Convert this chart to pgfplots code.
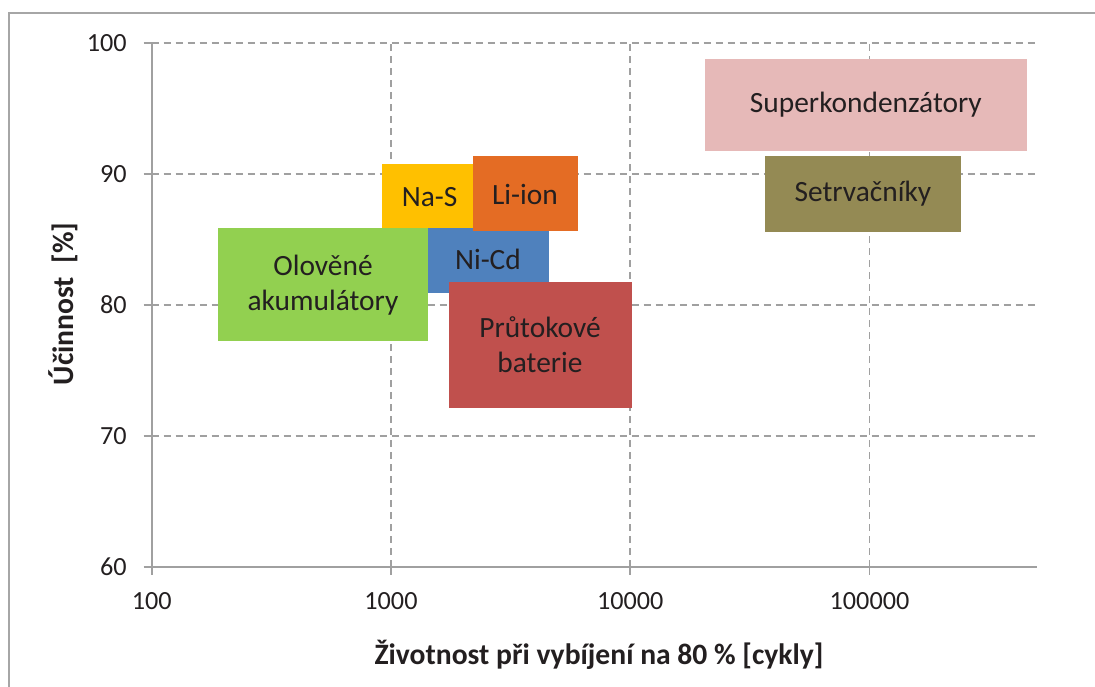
\documentclass[border=0pt]{standalone}
\usepackage{pgfplots}
\pgfplotsset{compat=1.18}
\usepackage{fontspec}
\setmainfont{Carlito}
\definecolor{framegray}{HTML}{A6A6A6}
\definecolor{axgray}{HTML}{A0A0A0}
\definecolor{txt}{HTML}{231F20}
\definecolor{cSuper}{HTML}{E6B9B8}
\definecolor{cSetr}{HTML}{948A54}
\definecolor{cNaS}{HTML}{FFC000}
\definecolor{cLi}{HTML}{E46C24}
\definecolor{cNi}{HTML}{4F81BD}
\definecolor{cPb}{HTML}{92D050}
\definecolor{cFlow}{HTML}{C0504D}
\begin{document}
\begin{tikzpicture}
\useasboundingbox (0,0) rectangle (547.5pt,343pt);
\draw[color=framegray, line width=0.8pt] (4.5pt,-1pt) -- (4.5pt,336.5pt) -- (548pt,336.5pt);
\begin{axis}[
  at={(75.85pt,59.65pt)}, anchor=south west,
  scale only axis, width=442.5pt, height=262pt,
  xmode=log, log basis x=10, xmin=100, xmax=500000, ymin=60, ymax=100,
  xtick={100,1000,10000,100000}, xticklabels={100,1000,10000,100000},
  ytick={60,70,80,90,100},
  axis lines*=left, axis line style={draw=axgray, line width=0.9pt, -},
  tick align=outside, major tick length=4pt,
  tick style={draw=axgray, line width=0.9pt},
  minor tick num=0, log ticks with fixed point,
  grid=major,
  major grid style={draw=axgray, line width=0.9pt, dash pattern=on 3.5pt off 2.5pt},
  /pgf/number format/assume math mode=true,
  tick label style={font=\fontsize{13.1}{15}\selectfont, text=txt},
  xticklabel style={yshift=-5.5pt},
  yticklabel style={xshift=-5pt},
  xlabel={Životnost při vybíjení na 80 \% [cykly]},
  ylabel={Účinnost~~[\%]},
  label style={font=\bfseries\fontsize{14.8}{17}\selectfont, text=txt},
  xlabel style={at={(axis description cs:0.5054,-0.168)}, anchor=center},
  ylabel style={at={(axis description cs:-0.1002,0.5013)}, anchor=center, rotate=0},
  clip=false,
]
% Superkondenzatory
\addplot[fill=cSuper, draw=none] coordinates {(20512,98.76) (453400,98.76) (453400,91.76) (20512,91.76)} -- cycle;
% Setrvacniky
\addplot[fill=cSetr, draw=none] coordinates {(36560,91.35) (240900,91.35) (240900,85.55) (36560,85.55)} -- cycle;
% Ni-Cd
\addplot[fill=cNi, draw=none] coordinates {(1100,85.85) (4574,85.85) (4574,80.89) (1100,80.89)} -- cycle;
% Na-S
\addplot[fill=cNaS, draw=none] coordinates {(917,90.74) (2201,90.74) (2201,85.85) (917,85.85)} -- cycle;
% Li-ion
\addplot[fill=cLi, draw=none] coordinates {(2201,91.35) (6045,91.35) (6045,85.65) (2201,85.65)} -- cycle;
% Olovene akumulatory
\addplot[fill=cPb, draw=none] coordinates {(189,85.85) (1427,85.85) (1427,77.25) (189,77.25)} -- cycle;
% Prutokove baterie
\addplot[fill=cFlow, draw=none] coordinates {(1747,81.76) (10165,81.76) (10165,72.14) (1747,72.14)} -- cycle;
\begin{scope}[every node/.style={font=\fontsize{14.7}{17.5}\selectfont, text=txt, align=center}]
\node at (axis cs:96600,95.24) {Superkondenzátory};
\node at (axis cs:93850,88.45) {Setrvačníky};
\node at (axis cs:1450,88.22) {Na-S};
\node at (axis cs:3631,88.45) {Li-ion};
\node at (axis cs:2543,83.49) {Ni-Cd};
\node at (axis cs:520,81.5) {Olověné\\akumulátory};
\node at (axis cs:4195,76.92) {Průtokové\\baterie};
\end{scope}
\end{axis}
\end{tikzpicture}
\end{document}
